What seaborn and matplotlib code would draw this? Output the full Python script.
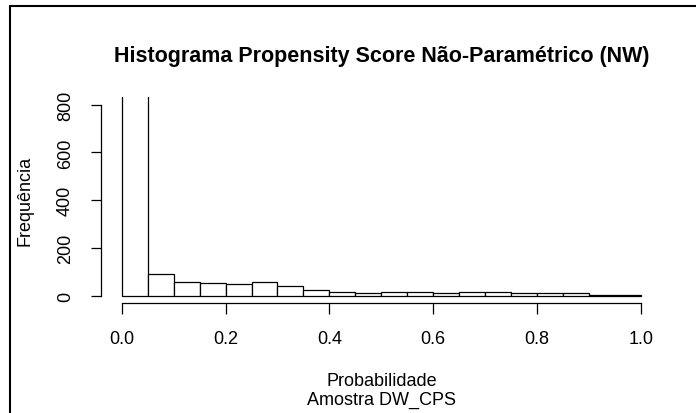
import matplotlib
matplotlib.use("Agg")
import matplotlib.pyplot as plt
import seaborn as sns
import numpy as np
from matplotlib.lines import Line2D

# Data (bin edges every 0.05; counts; first bar is clipped)
bin_edges = [0.00, 0.05, 0.10, 0.15, 0.20, 0.25, 0.30, 0.35, 0.40, 0.45, 0.50,
             0.55, 0.60, 0.65, 0.70, 0.75, 0.80, 0.85, 0.90, 0.95, 1.00]
counts = [1000, 92, 57, 53, 49, 57, 39, 24, 14, 10, 14,
          14, 11, 14, 14, 11, 11, 11, 4, 3]
x_ticks = [0.0, 0.2, 0.4, 0.6, 0.8, 1.0]
y_ticks = [0, 200, 400, 600, 800]
title = "Histograma Propensity Score Não-Paramétrico (NW)"
xlabel = "Probabilidade\nAmostra DW_CPS"
ylabel = "Frequência"

sns.set_style("white")
plt.rcParams['font.family'] = ['Liberation Sans', 'DejaVu Sans']

W, H = 696, 414
fig = plt.figure(figsize=(W / 100, H / 100), dpi=100)
fig.patch.set_facecolor("white")

left_px, right_px, bottom_px, top_px = 100.9, 661.8, 304.3, 98.0
ax = fig.add_axes([left_px / W, 1 - bottom_px / H,
                   (right_px - left_px) / W, (bottom_px - top_px) / H])

centers = [(bin_edges[i] + bin_edges[i + 1]) / 2 for i in range(len(counts))]
sns.histplot(x=centers, weights=counts, bins=bin_edges, color="white",
             edgecolor="black", linewidth=0.9, alpha=1, ax=ax)

ax.set_xlim(-0.04, 1.04)
ax.set_ylim(-32, 832)
ax.set_xticks(x_ticks)
ax.set_xticklabels([f"{v:.1f}" for v in x_ticks])
ax.set_yticks(y_ticks)
ax.set_yticklabels([str(v) for v in y_ticks])

for s in ["top", "right"]:
    ax.spines[s].set_visible(False)
ax.spines["left"].set_bounds(0, 800)
ax.spines["bottom"].set_bounds(0, 1)
for s in ["left", "bottom"]:
    ax.spines[s].set_color("black")
    ax.spines[s].set_linewidth(0.9)

ax.tick_params(axis="x", direction="out", length=8, width=0.9, pad=11,
               labelsize=13, colors="black", bottom=True)
ax.tick_params(axis="y", direction="out", length=7.5, width=0.9, pad=12,
               labelsize=13, colors="black", left=True, labelrotation=90)
for lab in ax.get_yticklabels():
    lab.set_va("center")
ax.set_xlabel("")
ax.set_ylabel("")
ax.grid(False)

fig.text(381.4 / W, 1 - 57 / H, title, ha="center", va="center",
         fontsize=15.5, fontweight="bold", color="black")
fig.text(381.4 / W, 1 - 382 / H, "Probabilidade", ha="center", va="center",
         fontsize=13, color="black")
fig.text(381.4 / W, 1 - 400 / H, "Amostra DW_CPS", ha="center", va="center",
         fontsize=13, color="black")
fig.text(25 / W, 1 - 201 / H, ylabel, ha="center", va="center",
         rotation=90, fontsize=13, color="black")

# Frame lines of the screenshot
fig.add_artist(Line2D([10 / W, 10 / W], [0, 1 - 7 / H], transform=fig.transFigure,
                      color="black", linewidth=1.5))
fig.add_artist(Line2D([10 / W, 1], [1 - 7 / H, 1 - 7 / H], transform=fig.transFigure,
                      color="black", linewidth=1.5))

fig.savefig("out.png", dpi=100, facecolor="white")
